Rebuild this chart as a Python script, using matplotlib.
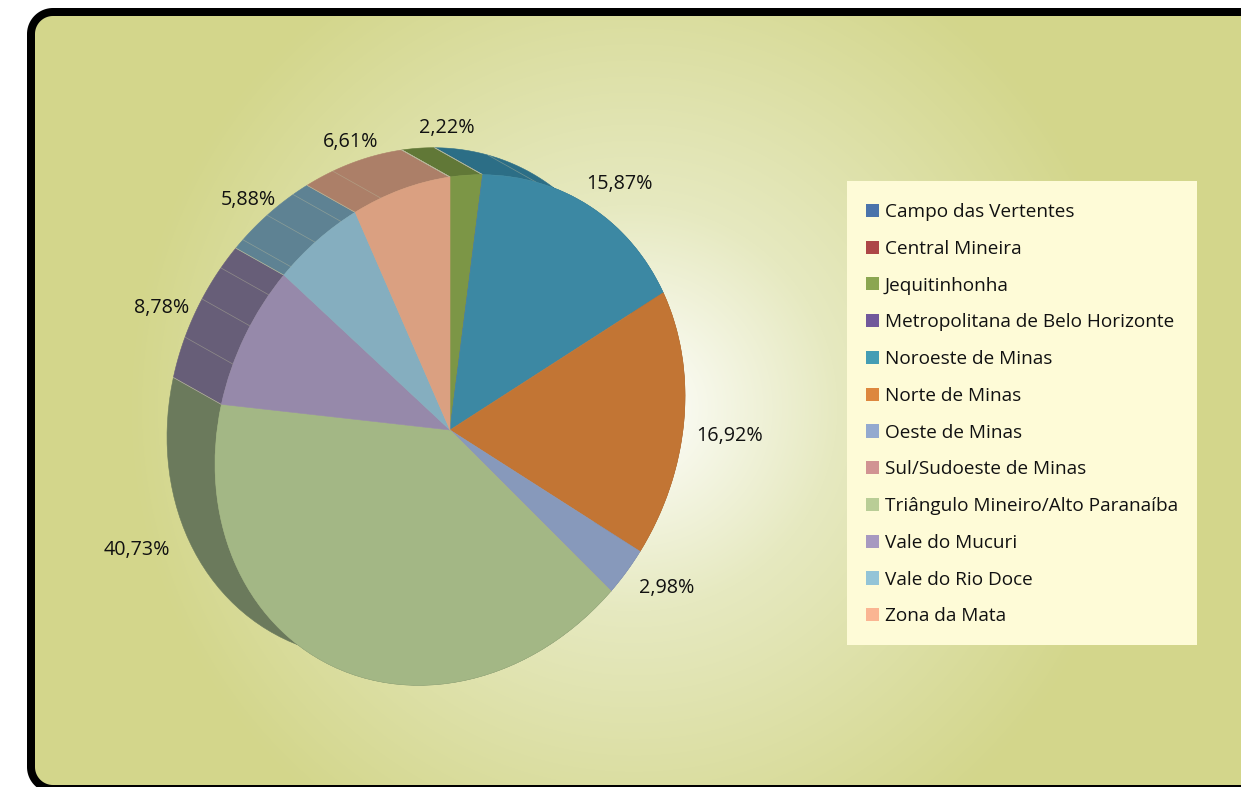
import numpy as np
import matplotlib
matplotlib.use("Agg")
import matplotlib.pyplot as plt
from matplotlib.patches import Polygon, Rectangle, Patch
from matplotlib.transforms import Affine2D

plt.rcParams['font.family'] = ['Open Sans', 'DejaVu Sans']

# ---- data ----
regions = ["Campo das Vertentes", "Central Mineira", "Jequitinhonha",
           "Metropolitana de Belo Horizonte", "Noroeste de Minas", "Norte de Minas",
           "Oeste de Minas", "Sul/Sudoeste de Minas", "Triângulo Mineiro/Alto Paranaíba",
           "Vale do Mucuri", "Vale do Rio Doce", "Zona da Mata"]
shares = [0, 0, 2.22, 0, 15.87, 16.92, 2.98, 0, 40.73, 8.78, 5.88, 6.61]

legend_colors = ["#4A73AB", "#AD4646", "#8BA651", "#71589B", "#449DB4", "#DD873E",
                 "#93A9CF", "#D19392", "#B9CD96", "#A799C0", "#93C4D7", "#FAB592"]
face_colors = ["#4A73AB", "#AD4646", "#7C9646", "#71589B", "#3C88A3", "#C27534",
               "#8799BB", "#D19392", "#A3B785", "#9689AA", "#85AEBF", "#DAA081"]
wall_colors = ["#3A5A85", "#873737", "#617837", "#58457A", "#2C6E86", "#98602C",
               "#6C7A96", "#A37372", "#6B7A5C", "#675E78", "#5E8293", "#AC7F68"]
# seams seen on the side wall, degrees clockwise from 12 o'clock
wall_seams = [21.5, 292.6, 301.7, 309.6, 317.4, 325.0, 332.4, 342.9]

# label centres in pixels, keyed by region
label_pos = {"Jequitinhonha": (447, 128.5), "Noroeste de Minas": (619, 183.5),
             "Norte de Minas": (730, 435.5), "Oeste de Minas": (667, 587.5),
             "Triângulo Mineiro/Alto Paranaíba": (137, 549.5), "Vale do Mucuri": (162, 308.5),
             "Vale do Rio Doce": (248, 199.5), "Zona da Mata": (351, 142.5)}

# ---- layout ----
W, H = 1241, 787
fig = plt.figure(figsize=(W / 100, H / 100), dpi=100, facecolor="white")
ax = fig.add_axes([0, 0, 1, 1])

# pie geometry: unit-circle to pixels (sheared disc), plus the depth shift of the back face
CX, CY = 450, 430
UX, UY, VY = 235, 34, 253
DX, DY = -48, -27
disc = Affine2D(np.array([[UX, 0, CX], [-UY, -VY, CY], [0, 0, 1.0]]))


def rim(theta):
    return CX + UX * np.sin(theta), CY - UY * np.sin(theta) - VY * np.cos(theta)


def rounded(left, top, right, bottom, rad):
    a = np.linspace(0, np.pi / 2, 24)
    corners = [(left + rad - rad * np.cos(a), top + rad - rad * np.sin(a)),
               (right - rad + rad * np.sin(a), top + rad - rad * np.cos(a)),
               (right - rad + rad * np.cos(a), bottom - rad + rad * np.sin(a)),
               (left + rad - rad * np.sin(a), bottom - rad + rad * np.cos(a))]
    return np.column_stack([np.concatenate([c[0] for c in corners]),
                            np.concatenate([c[1] for c in corners])])


# front faces
wedges, _ = ax.pie(shares, colors=face_colors, startangle=90, counterclock=False,
                   radius=1, wedgeprops=dict(linewidth=0.4, zorder=5))
for w, c in zip(wedges, face_colors):
    w.set_transform(disc + ax.transData)
    w.set_edgecolor(c)

ax.set_aspect("auto")
ax.axis("off")

# background: circular gradient inside a black rounded frame
yy, xx = np.mgrid[0.5:H, 0.5:W]
t = np.clip(np.hypot(xx - 634, yy - 408) / 508, 0, 1)
stops = [0, 0.4, 1]
rgb = np.dstack([np.interp(t, stops, [255, 230, 211]),
                 np.interp(t, stops, [255, 233, 214]),
                 np.interp(t, stops, [255, 192, 139])]) / 255
img = ax.imshow(rgb, extent=(0, W, H, 0), zorder=1, aspect="auto")
ax.set_xlim(0, W)
ax.set_ylim(H, 0)

ax.add_patch(Polygon(rounded(27, 8, W + 30, 793, 26), closed=True, fc="black", ec="none", zorder=0.5))
inner = Polygon(rounded(35, 16, W + 22, 785, 18), closed=True, fc="none", ec="none",
                transform=ax.transData)
img.set_clip_path(inner)

# side walls
cum = np.concatenate([[0], np.cumsum(shares)]) / 100 * 2 * np.pi
for v, a0, b0, c in zip(shares, cum[:-1], cum[1:], wall_colors):
    if v == 0:
        continue
    th = np.linspace(a0, b0, 60)
    x, y = rim(th)
    ax.fill(np.r_[x, x[::-1] + DX], np.r_[y, y[::-1] + DY], fc=c, ec=c, lw=0.4, zorder=3)

# edges on the side walls
for th in cum[1:]:
    x, y = rim(th)
    ax.plot([x, x + DX], [y, y + DY], color="#B8B99C", lw=0.5, zorder=4)
for d in wall_seams:
    x, y = rim(np.radians(d))
    ax.plot([x, x + DX], [y, y + DY], color="#B8B99C", lw=0.5, alpha=0.5, zorder=4)

# percentage labels
for name, v in zip(regions, shares):
    if v > 0:
        px, py = label_pos[name]
        ax.text(px, py, f"{v:.2f}".replace(".", ",") + "%", ha="center", va="center",
                fontsize=14.2, color="#111111", zorder=8)

# legend
ax.add_patch(Rectangle((847, 181), 350, 464, fc="#FEFBD7", ec="none", zorder=6))
handles = [Patch(fc=c, ec="none") for c in legend_colors]
FS = 13.7
FPX = FS * 100 / 72
ax.legend(handles, regions, loc="upper left", bbox_to_anchor=(866, 203),
          bbox_transform=ax.transData, frameon=False, fontsize=FS, borderpad=0,
          borderaxespad=0, handlelength=13 / FPX, handleheight=13 / FPX,
          handletextpad=6 / FPX, labelspacing=(37.8 - FPX) / FPX,
          labelcolor="#111111").set_zorder(7)

fig.savefig("out.png", dpi=100, facecolor="white")
